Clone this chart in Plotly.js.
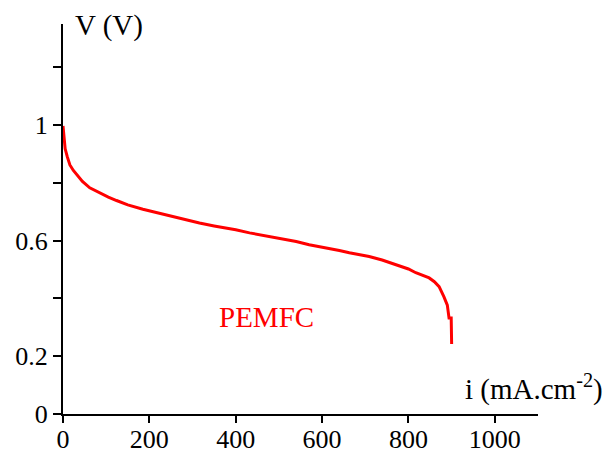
<!DOCTYPE html>
<html>
<head>
<meta charset="utf-8">
<script src="https://cdn.plot.ly/plotly-3.0.1.min.js"></script>
<style>html,body{margin:0;padding:0;background:#fff;}#chart{width:612px;height:453px;}</style>
</head>
<body>
<div id="chart"></div>
<script>
// Current density (mA/cm^2) and cell voltage (V)
const current = [0, 2, 5, 10, 16, 24, 32, 45, 62, 85, 105, 124, 150, 185, 210, 240, 270, 294, 316, 350, 400, 432, 455, 500, 540, 570, 600, 640, 663, 709, 739, 778, 800, 817, 835, 848, 860, 871, 882, 890, 894, 899, 900];
const voltage = [0.997, 0.95, 0.918, 0.89, 0.862, 0.843, 0.828, 0.805, 0.783, 0.765, 0.751, 0.739, 0.724, 0.709, 0.700, 0.690, 0.678, 0.668, 0.661, 0.651, 0.638, 0.627, 0.621, 0.608, 0.597, 0.586, 0.578, 0.566, 0.558, 0.545, 0.533, 0.514, 0.502, 0.489, 0.480, 0.471, 0.458, 0.441, 0.406, 0.377, 0.332, 0.332, 0.242];

const xTicks = [0, 200, 400, 600, 800, 1000];
const yTickVals = [0, 0.2, 0.6, 1];
const yTickText = ['0', '0.2', '0.6', '1'];

const serif = 'Liberation Serif, Times New Roman, serif';

const trace = {
  x: current,
  y: voltage,
  type: 'scatter',
  mode: 'lines',
  line: {color: '#ff0000', width: 3, shape: 'linear'},
  hoverinfo: 'none'
};

const layout = {
  width: 612,
  height: 453,
  margin: {l: 63, r: 74, t: 24, b: 39, pad: 0},
  paper_bgcolor: '#ffffff',
  plot_bgcolor: '#ffffff',
  showlegend: false,
  font: {family: serif, size: 26, color: '#000'},
  xaxis: {
    range: [0, 1100],
    tickvals: xTicks,
    ticktext: xTicks.map(String),
    ticks: 'outside',
    ticklen: 7,
    tickwidth: 2,
    tickcolor: '#000',
    ticklabelstandoff: -6,
    showline: true,
    linewidth: 2,
    linecolor: '#000',
    showgrid: false,
    zeroline: false,
    tickfont: {family: serif, size: 26, color: '#000'}
  },
  yaxis: {
    range: [0, 1.35],
    tickvals: yTickVals,
    ticktext: yTickText,
    ticks: 'outside',
    ticklen: 8,
    tickwidth: 2,
    tickcolor: '#000',
    minor: {tick0: 0, dtick: 0.2, ticks: 'outside', ticklen: 8, tickwidth: 2, tickcolor: '#000', showgrid: false},
    showline: true,
    linewidth: 2,
    linecolor: '#000',
    showgrid: false,
    zeroline: false,
    tickfont: {family: serif, size: 26, color: '#000'}
  },
  annotations: [
    {text: 'V (V)', xref: 'paper', yref: 'paper', x: 0.022, y: 0.995, xanchor: 'left', yanchor: 'middle', showarrow: false, font: {family: serif, size: 29, color: '#000'}},
    {text: 'i (mA.cm<sup>-2</sup>)', xref: 'paper', yref: 'paper', x: 0.842, y: 0.068, xanchor: 'left', yanchor: 'middle', showarrow: false, font: {family: serif, size: 29, color: '#000'}},
    {text: 'PEMFC', xref: 'paper', yref: 'paper', x: 0.324, y: 0.249, xanchor: 'left', yanchor: 'middle', showarrow: false, font: {family: serif, size: 29, color: '#ff0000'}}
  ]
};

Plotly.newPlot('chart', [trace], layout, {displayModeBar: false, staticPlot: true});
</script>
</body>
</html>
